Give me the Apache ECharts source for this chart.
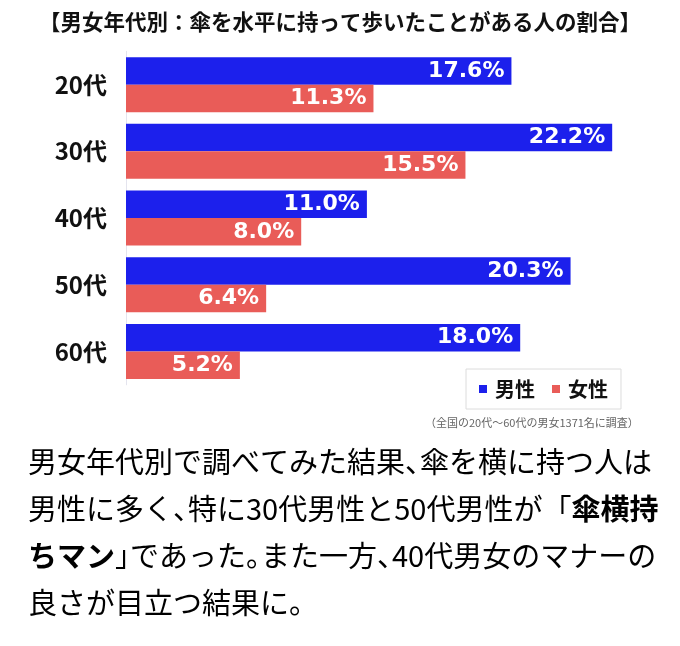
<!DOCTYPE html>
<html lang="ja">
<head>
    <meta charset="UTF-8">
    <title>傘を水平に持って歩いたことがある人の割合</title>
    <script src="https://cdn.jsdelivr.net/npm/echarts@6/dist/echarts.min.js"></script>
    <style>
        html, body { margin: 0; padding: 0; background: #fff; }
    </style>
</head>
<body>
<div id="main" style="width: 680px;height:646px;"></div>
<script type="text/javascript">
    // データ
    var ageGroups = ['20代', '30代', '40代', '50代', '60代'];
    var maleRate = [17.6, 22.2, 11.0, 20.3, 18.0];
    var femaleRate = [11.3, 15.5, 8.0, 6.4, 5.2];
    var seriesNames = ['男性', '女性'];

    var jpFont = '"Noto Sans CJK JP", "Noto Sans", sans-serif';
    var bodyFont = '29px ' + jpFont;
    var bodyBold = 'bold 29px ' + jpFont;

    var myChart = echarts.init(document.getElementById('main'));

    function pctLabel(p) {
        return p.value.toFixed(1) + '%';
    }

    var labelStyle = {
        show: true,
        position: 'insideRight',
        distance: 7,
        color: '#fff',
        fontFamily: '"DejaVu Sans", sans-serif',
        fontWeight: 'bold',
        fontSize: 22,
        formatter: pctLabel
    };

    // 本文用のリッチテキスト（句読点は詰める）
    var bodyRich = {
        n: { font: bodyFont, color: '#333' },
        b: { font: bodyBold, color: '#222' },
        p: { font: bodyFont, color: '#333', width: 15 }
    };

    var option = {
        backgroundColor: '#fff',
        animation: false,
        title: {
            text: '【男女年代別：傘を水平に持って歩いたことがある人の割合】',
            left: 'center',
            top: 6,
            textStyle: {
                fontFamily: jpFont,
                fontSize: 21.5,
                fontWeight: 'bold',
                color: '#111'
            }
        },
        legend: {
            data: seriesNames,
            left: 466,
            top: 369,
            icon: 'rect',
            itemWidth: 8,
            itemHeight: 8,
            itemGap: 17,
            padding: [10, 13],
            borderColor: '#dcdcdc',
            borderWidth: 1,
            textStyle: {
                fontFamily: jpFont,
                fontSize: 20,
                fontWeight: 'bold',
                color: '#111',
                padding: [0, 0, 0, 3]
            }
        },
        grid: {
            left: 126,
            right: 6.5,
            top: 51.3,
            height: 333.5,
            containLabel: false
        },
        xAxis: {
            type: 'value',
            min: 0,
            max: 25,
            show: false
        },
        yAxis: {
            type: 'category',
            data: ageGroups,
            inverse: true,
            axisLine: { show: true, lineStyle: { color: '#e4e4ee', width: 1 } },
            axisTick: { show: false },
            axisLabel: {
                margin: 19,
                fontFamily: jpFont,
                fontSize: 24,
                fontWeight: 'bold',
                color: '#111'
            }
        },
        series: [
            {
                name: seriesNames[0],
                type: 'bar',
                data: maleRate,
                barWidth: 27.5,
                barGap: '0%',
                itemStyle: { color: '#1c20ec' },
                label: labelStyle
            },
            {
                name: seriesNames[1],
                type: 'bar',
                data: femaleRate,
                barWidth: 27.5,
                barGap: '0%',
                itemStyle: { color: '#e95c58' },
                label: labelStyle
            }
        ],
        graphic: [
            {
                type: 'text',
                left: 425,
                top: 417,
                style: {
                    text: '（全国の20代～60代の男女1371名に調査）',
                    font: '11px ' + jpFont,
                    fill: '#666'
                }
            },
            {
                type: 'text',
                left: 28,
                top: 447,
                style: {
                    text: '{n|男女年代別で調べてみた結果}{p|、}{n|傘を横に持つ人は}',
                    rich: bodyRich
                }
            },
            {
                type: 'text',
                left: 28,
                top: 494,
                style: {
                    text: '{n|男性に多く}{p|、}{n|特に30代男性と50代男性が「}{b|傘横持}',
                    rich: bodyRich
                }
            },
            {
                type: 'text',
                left: 28,
                top: 541,
                style: {
                    text: '{b|ちマン}{p|」}{n|であった}{p|。}{n|また一方}{p|、}{n|40代男女のマナーの}',
                    rich: bodyRich
                }
            },
            {
                type: 'text',
                left: 28,
                top: 588,
                style: {
                    text: '{n|良さが目立つ結果に}{p|。}',
                    rich: bodyRich
                }
            }
        ]
    };

    myChart.setOption(option);
</script>
</body>
</html>
